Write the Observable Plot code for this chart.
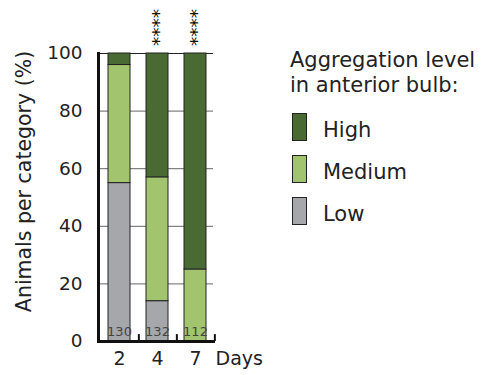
<!DOCTYPE html>
<html>
<head>
<meta charset="utf-8">
<script src="https://cdn.jsdelivr.net/npm/d3@7"></script>
<script src="https://cdn.jsdelivr.net/npm/@observablehq/plot@0.6"></script>
<style>
  html, body { margin: 0; padding: 0; background: #fff; }
  #wrap { position: relative; width: 481px; height: 375px; font-family: "DejaVu Sans", sans-serif; color: #222; }
  #wrap svg { position: absolute; left: 0; top: 0; }
  #legend { position: absolute; left: 290px; top: 48px; font-size: 21px; line-height: 25px; color: #222; }
  .sw { position: absolute; width: 13px; height: 26px; border: 1px solid #222; }
  .lab { position: absolute; white-space: nowrap; line-height: 28px; }
</style>
</head>
<body>
<div id="wrap"></div>
<script>
// ---- data ----
const days = ["2", "4", "7"];
const levels = ["High", "Medium", "Low"];
const lowPct = [55, 14, 0];
const mediumPct = [41, 43, 25];
const highPct = [4, 43, 75];
const counts = ["130", "132", "112"];
const stars = ["", "****", "****"];
const yTicks = [0, 20, 40, 60, 80, 100];
const gridTicks = [20, 40, 60, 80];
const colors = ["#4a6a34", "#a2c46f", "#a6a7ab"];
const yLabel = "Animals per category (%)";
const xLabel = "Days";
const legendTitle = ["Aggregation level", "in anterior bulb:"];

// table for the library
const rows = [];
days.forEach((d, i) => {
  rows.push({day: d, level: "Low", value: lowPct[i]});
  rows.push({day: d, level: "Medium", value: mediumPct[i]});
  rows.push({day: d, level: "High", value: highPct[i]});
});
const bars = rows.filter(r => r.value > 0);
const ann = days.map((d, i) => ({day: d, n: counts[i], s: stars[i]}));

const W = 481, H = 375, ML = 98, MR = 268, MT = 53, MB = 34;
const pIn = 0.43, pOut = 0.2;
const step = (W - ML - MR) / (days.length - pIn + 2 * pOut);

const chart = Plot.plot({
  width: W, height: H,
  marginLeft: ML, marginRight: MR, marginTop: MT, marginBottom: MB,
  style: {fontFamily: "DejaVu Sans, sans-serif", color: "#222", background: "transparent"},
  x: {domain: days, paddingInner: pIn, paddingOuter: pOut, align: 0.6, label: null},
  y: {domain: [0, 100], label: null},
  color: {domain: levels, range: colors},
  marks: [
    Plot.ruleY(gridTicks, {stroke: "#666", strokeWidth: 1}),
    Plot.ruleY([100], {stroke: "#222", strokeWidth: 1}),
    Plot.barY(bars, {x: "day", y: "value", fill: "level", stroke: "#222", strokeWidth: 1, order: ["Low", "Medium", "High"]}),
    Plot.text(ann, {x: "day", y: 0, text: "n", dy: -10, fontSize: 13, fill: "#444", lineAnchor: "middle"}),
    Plot.text(ann, {x: "day", y: 109, text: "s", rotate: -90, fontSize: 18.5, fill: "#111", dx: 2}),
    Plot.ruleX(days, {x: d => d, y1: 0, y2: 2.4, dx: step / 2, stroke: "#111", strokeWidth: 2}),
    Plot.frame({anchor: "left", stroke: "#111", strokeWidth: 3}),
    Plot.frame({anchor: "bottom", stroke: "#111", strokeWidth: 3}),
    Plot.axisY({ticks: yTicks, tickSize: 0, tickPadding: 16, fontSize: 18.5, label: null}),
    Plot.axisX({tickSize: 0, tickPadding: 10, fontSize: 19, label: null}),
    Plot.text([xLabel], {frameAnchor: "bottom-right", textAnchor: "start", lineAnchor: "top", dx: 2, dy: 10, fontSize: 19}),
    Plot.text([yLabel], {frameAnchor: "left", textAnchor: "middle", rotate: -90, dx: -74, dy: -16, fontSize: 20.5})
  ]
});

const wrap = document.getElementById("wrap");
wrap.appendChild(chart);

// legend
const lg = document.createElement("div");
lg.id = "legend";
legendTitle.forEach(t => {
  const d = document.createElement("div");
  d.textContent = t;
  lg.appendChild(d);
});
wrap.appendChild(lg);
levels.forEach((lv, i) => {
  const sw = document.createElement("div");
  sw.className = "sw";
  sw.style.left = "292px";
  sw.style.top = (113 + 42 * i) + "px";
  sw.style.background = colors[i];
  wrap.appendChild(sw);
  const lab = document.createElement("div");
  lab.className = "lab";
  lab.style.left = "323px";
  lab.style.top = (116 + 42 * i) + "px";
  lab.style.fontSize = "21px";
  lab.textContent = lv;
  wrap.appendChild(lab);
});
</script>
</body>
</html>
